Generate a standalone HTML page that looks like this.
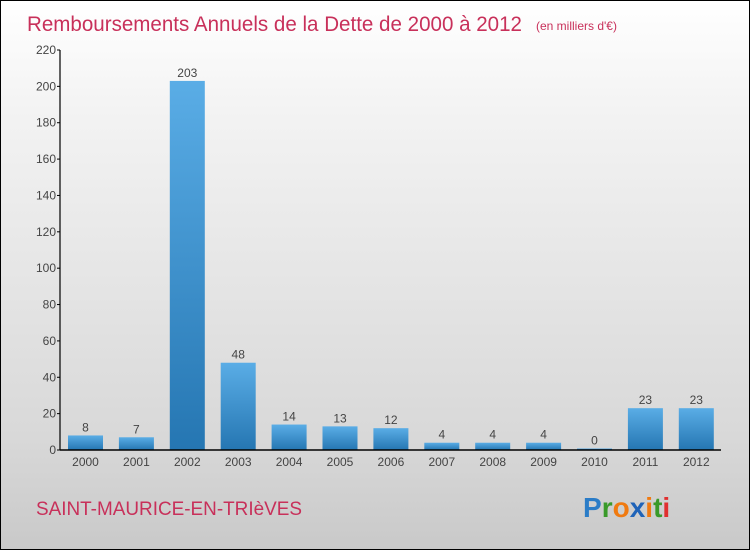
<!DOCTYPE html>
<html><head><meta charset="utf-8"><style>
body{margin:0}
#c{width:748px;height:548px;border:1px solid #000;background:linear-gradient(#fff,#f3f3f3 20%,#d8d8d8 80%,#c9c9c9);position:relative;font-family:"Liberation Sans",sans-serif;overflow:hidden}
</style></head><body>
<div id="c">
<svg width="748" height="548" xmlns="http://www.w3.org/2000/svg" id="svg">
<defs><linearGradient id="g" x1="0" y1="0" x2="0" y2="1"><stop offset="0" stop-color="#5aade6"/><stop offset="1" stop-color="#2576b2"/></linearGradient></defs>
<text x="26" y="30" font-size="21" fill="#c8305a" textLength="495" lengthAdjust="spacingAndGlyphs">Remboursements Annuels de la Dette de 2000 à 2012</text>
<text x="535" y="29" font-size="12" fill="#c8305a">(en milliers d'€)</text>
<text x="35" y="514" font-size="19" fill="#c8305a" textLength="266" lengthAdjust="spacingAndGlyphs">SAINT-MAURICE-EN-TRIèVES</text>
<g font-size="28" font-weight="bold" font-family="Liberation Sans, sans-serif">
<text x="582" y="516"><tspan fill="#2a7cc7">P</tspan><tspan fill="#3a9a2a">r</tspan><tspan fill="#f07a10">o</tspan><tspan fill="#1f63b8">x</tspan><tspan fill="#f07a10">i</tspan><tspan fill="#3a9a2a">t</tspan><tspan fill="#e03030">i</tspan></text></g>
<g id="plot"></g>
</svg>
</div>
<script>
const categories=["2000","2001","2002","2003","2004","2005","2006","2007","2008","2009","2010","2011","2012"];
const values=[8,7,203,48,14,13,12,4,4,4,0,23,23];
const yTicks=[0,20,40,60,80,100,120,140,160,180,200,220];
const NS="http://www.w3.org/2000/svg";
const plot=document.getElementById('plot');
const y0=449,yTop=49,yMax=220,axisX=59;
const y=v=>y0-(v/yMax)*(y0-yTop);
const x=i=>84.5+i*50.9;
const bw=35;
function el(t,a,txt){const e=document.createElementNS(NS,t);for(const k in a)e.setAttribute(k,a[k]);if(txt!==undefined)e.textContent=txt;plot.appendChild(e);return e;}
values.forEach((v,i)=>{
 const h=Math.max(y0-y(v),1.5);
 const r=el('rect',{x:x(i)-bw/2,y:y0-h,width:bw,height:h,fill:'url(#g)'});
 
 
 const t=el('text',{x:x(i),y:y0-h-4,'font-size':12,fill:'#444','text-anchor':'middle'},String(v));
 
 
 const c=el('text',{x:x(i),y:y0+16,'font-size':12,fill:'#444','text-anchor':'middle'},categories[i]);
 
 
});
yTicks.forEach(v=>{
 const l=el('line',{x1:axisX-3,x2:axisX,y1:y(v),y2:y(v),stroke:'#000'});
 
 
 const t=el('text',{x:axisX-4,y:y(v)+4,'font-size':12,fill:'#444','text-anchor':'end'},String(v));
 
 
});
const ya=el('line',{x1:axisX,x2:axisX,y1:yTop,y2:y0,stroke:'#000','stroke-width':1.2});


const xa=el('line',{x1:axisX,x2:720,y1:y0,y2:y0,stroke:'#000','stroke-width':1.5});


</script>
</body></html>
